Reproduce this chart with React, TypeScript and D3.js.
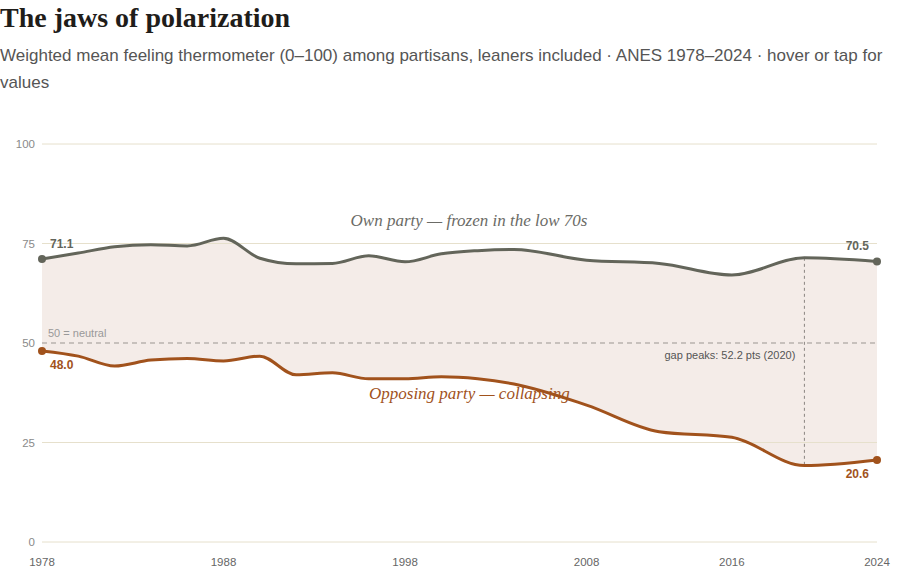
import React, { useEffect } from "react"
import * as d3 from "d3"

// ANES survey years and weighted mean feeling thermometer values
const years = [1978, 1980, 1982, 1984, 1986, 1988, 1990, 1992, 1994, 1996, 1998, 2000, 2002, 2004, 2008, 2012, 2016, 2020, 2024]
const ownParty = [71.1, 72.6, 74.2, 74.7, 74.4, 76.3, 71.3, 69.9, 70.0, 71.9, 70.4, 72.4, 73.2, 73.5, 70.8, 70.0, 67.1, 71.4, 70.5]
const opposingParty = [48.0, 46.7, 44.2, 45.7, 46.1, 45.5, 46.7, 42.0, 42.5, 41.0, 41.0, 41.5, 41.0, 39.7, 34.4, 27.7, 26.3, 19.2, 20.6]
const xTicks = [1978, 1988, 1998, 2008, 2016, 2024]
const yTicks = [0, 25, 50, 75, 100]

interface Point {
  year: number
  own: number
  opp: number
}

const data: Point[] = years.map((year, i) => ({ year, own: ownParty[i], opp: opposingParty[i] }))

const WIDTH = 900
const HEIGHT = 578
const OWN_COLOR = "#63655a"
const OPP_COLOR = "#a1521c"
const SANS = "'Liberation Sans', Arial, sans-serif"
const SERIF = "'Liberation Serif', Georgia, serif"

const App: React.FC = () => {
  useEffect(() => {
    document.body.style.margin = "0"
  }, [])

  const margin = { top: 144, right: 23, bottom: 36, left: 42 }
  const x = d3.scaleLinear().domain([1978, 2024]).range([margin.left, WIDTH - margin.right])
  const y = d3.scaleLinear().domain([0, 100]).range([HEIGHT - margin.bottom, margin.top])

  const ownLine = d3
    .line<Point>()
    .x((d) => x(d.year))
    .y((d) => y(d.own))
    .curve(d3.curveMonotoneX)
  const oppLine = d3
    .line<Point>()
    .x((d) => x(d.year))
    .y((d) => y(d.opp))
    .curve(d3.curveMonotoneX)
  const gapArea = d3
    .area<Point>()
    .x((d) => x(d.year))
    .y0((d) => y(d.opp))
    .y1((d) => y(d.own))
    .curve(d3.curveMonotoneX)

  // find the widest gap
  const peak = data.reduce((a, b) => (b.own - b.opp > a.own - a.opp ? b : a))
  const first = data[0]
  const last = data[data.length - 1]

  return (
    <svg width={WIDTH} height={HEIGHT} style={{ display: "block" }}>
      {/* Header */}
      <text x={0} y={27} fontFamily={SERIF} fontWeight="bold" fontSize={28} fill="#1f1d1a">
        The jaws of polarization
      </text>
      <text fontFamily={SANS} fontSize={17} fill="#555">
        <tspan x={0} y={61}>
          Weighted mean feeling thermometer (0–100) among partisans, leaners included · ANES 1978–2024 · hover or tap for
        </tspan>
        <tspan x={0} y={88}>
          values
        </tspan>
      </text>

      {/* gap fill */}
      <path d={gapArea(data) ?? ""} fill="#f4ece8" />

      {/* grid */}
      {yTicks.map((t) => (
        <g key={t}>
          {t !== 50 && (
            <line x1={x(1978)} x2={x(2024)} y1={y(t)} y2={y(t)} stroke="#e6e0cc" strokeWidth={1} />
          )}
          <text x={35} y={y(t) + 4} textAnchor="end" fontFamily={SANS} fontSize={11.5} fill="#8a8a8a">
            {t}
          </text>
        </g>
      ))}
      <line
        x1={x(1978)}
        x2={x(2024)}
        y1={y(50)}
        y2={y(50)}
        stroke="#9a9590"
        strokeWidth={1}
        strokeDasharray="5,4"
      />
      <text x={x(1978) + 6} y={y(50) - 6} fontFamily={SANS} fontSize={11} fill="#999">
        50 = neutral
      </text>

      {xTicks.map((t) => (
        <text key={t} x={x(t)} y={566} textAnchor="middle" fontFamily={SANS} fontSize={11.5} fill="#666">
          {t}
        </text>
      ))}

      {/* gap peak marker */}
      <line
        x1={x(peak.year)}
        x2={x(peak.year)}
        y1={y(peak.own)}
        y2={y(peak.opp)}
        stroke="#8a8580"
        strokeWidth={1}
        strokeDasharray="3,3"
      />
      <text x={x(peak.year) - 9} y={y(50) + 16} textAnchor="end" fontFamily={SANS} fontSize={11} fill="#555">
        gap peaks: {(peak.own - peak.opp).toFixed(1)} pts ({peak.year})
      </text>

      {/* lines */}
      <path d={ownLine(data) ?? ""} fill="none" stroke={OWN_COLOR} strokeWidth={3} />
      <path d={oppLine(data) ?? ""} fill="none" stroke={OPP_COLOR} strokeWidth={3} />

      {/* end points */}
      {[first, last].map((d) => (
        <g key={d.year}>
          <circle cx={x(d.year)} cy={y(d.own)} r={4} fill={OWN_COLOR} />
          <circle cx={x(d.year)} cy={y(d.opp)} r={4} fill={OPP_COLOR} />
        </g>
      ))}
      <text x={x(first.year) + 8} y={y(first.own) - 11} fontFamily={SANS} fontWeight="bold" fontSize={12} fill={OWN_COLOR}>
        {first.own.toFixed(1)}
      </text>
      <text x={x(last.year) - 8} y={y(last.own) - 11} textAnchor="end" fontFamily={SANS} fontWeight="bold" fontSize={12} fill={OWN_COLOR}>
        {last.own.toFixed(1)}
      </text>
      <text x={x(first.year) + 8} y={y(first.opp) + 18} fontFamily={SANS} fontWeight="bold" fontSize={12} fill={OPP_COLOR}>
        {first.opp.toFixed(1)}
      </text>
      <text x={x(last.year) - 8} y={y(last.opp) + 18} textAnchor="end" fontFamily={SANS} fontWeight="bold" fontSize={12} fill={OPP_COLOR}>
        {last.opp.toFixed(1)}
      </text>

      {/* annotations */}
      <text x={469} y={226} textAnchor="middle" fontFamily={SERIF} fontStyle="italic" fontSize={17} fill="#6b6b66">
        Own party — frozen in the low 70s
      </text>
      <text x={369} y={399} fontFamily={SERIF} fontStyle="italic" fontSize={17} fill={OPP_COLOR}>
        Opposing party — collapsing
      </text>
    </svg>
  )
}

export default App
